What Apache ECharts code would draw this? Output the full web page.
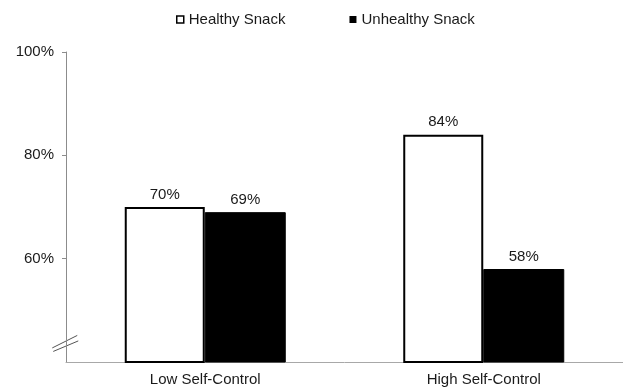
<!DOCTYPE html>
<html>
<head>
<meta charset="utf-8">
<script src="https://cdn.jsdelivr.net/npm/echarts@6/dist/echarts.min.js"></script>
<style>
  html, body { margin: 0; padding: 0; background: #fff; }
  #chart { width: 623px; height: 389px; }
</style>
</head>
<body>
<div id="chart"></div>
<script>
// Share of participants choosing each snack, by self-control group
const categories = ['Low Self-Control', 'High Self-Control'];
const healthySnack = [70, 84];
const unhealthySnack = [69, 58];
const yTicks = [60, 80, 100];

const FONT = '"Liberation Sans", Arial, Helvetica, sans-serif';
const TEXT = '#1a1a1a';

const chart = echarts.init(document.getElementById('chart'), null, { renderer: 'canvas' });

const option = {
  backgroundColor: '#fff',
  animation: false,
  textStyle: { fontFamily: FONT },
  legend: {
    left: 176,
    top: 12,
    padding: 0,
    itemGap: 64,
    itemWidth: 7,
    itemHeight: 7,
    icon: 'rect',
    textStyle: { fontSize: 15, color: TEXT, fontFamily: FONT },
    data: [
      { name: 'Healthy Snack', itemStyle: { color: '#fff', borderColor: '#000', borderWidth: 1.5 } },
      { name: 'Unhealthy Snack', itemStyle: { color: '#000', borderColor: '#000', borderWidth: 0 } }
    ]
  },
  grid: { left: 66, top: 52, bottom: 27, right: -3, containLabel: false },
  xAxis: {
    type: 'category',
    data: categories,
    axisLine: { show: true, lineStyle: { color: '#a8a8a8', width: 1 } },
    axisTick: { show: false },
    axisLabel: { fontSize: 15, color: TEXT, margin: 10, fontFamily: FONT }
  },
  yAxis: {
    type: 'value',
    min: 40,
    max: 100,
    interval: 20,
    splitLine: { show: false },
    axisLine: { show: true, lineStyle: { color: '#8c8c8c', width: 1 } },
    axisTick: { show: true, length: 4, customValues: yTicks, lineStyle: { color: '#8c8c8c' } },
    axisLabel: {
      fontSize: 15, color: TEXT, margin: 12, fontFamily: FONT,
      customValues: yTicks,
      formatter: v => v + '%'
    }
  },
  series: [
    {
      name: 'Healthy Snack',
      type: 'bar',
      data: healthySnack,
      barWidth: 80,
      barGap: '0%',
      itemStyle: { color: '#fff', borderColor: '#000', borderWidth: 2 },
      label: { show: true, position: 'top', distance: 5, fontSize: 15, color: TEXT, fontFamily: FONT, formatter: p => p.value + '%' }
    },
    {
      name: 'Unhealthy Snack',
      type: 'bar',
      data: unhealthySnack,
      barWidth: 81,
      barGap: '0%',
      itemStyle: { color: '#000', borderColor: '#000', borderWidth: 1 },
      label: { show: true, position: 'top', distance: 5, fontSize: 15, color: TEXT, fontFamily: FONT, formatter: p => p.value + '%' }
    }
  ]
};

chart.setOption(option);

// Axis-break marks: two slanted strokes across the value axis just above its minimum
const breakY = chart.convertToPixel({ yAxisIndex: 0 }, 43.4);
const axisX = chart.convertToPixel({ xAxisIndex: 0 }, 0) - 140;
const strokeStyle = { stroke: '#555', lineWidth: 1 };
chart.setOption({
  graphic: [
    { type: 'line', silent: true, shape: { x1: axisX - 13, y1: breakY + 3.5, x2: axisX + 12, y2: breakY - 9 }, style: strokeStyle },
    { type: 'line', silent: true, shape: { x1: axisX - 12, y1: breakY + 7, x2: axisX + 13, y2: breakY - 3.5 }, style: strokeStyle }
  ]
});
</script>
</body>
</html>
